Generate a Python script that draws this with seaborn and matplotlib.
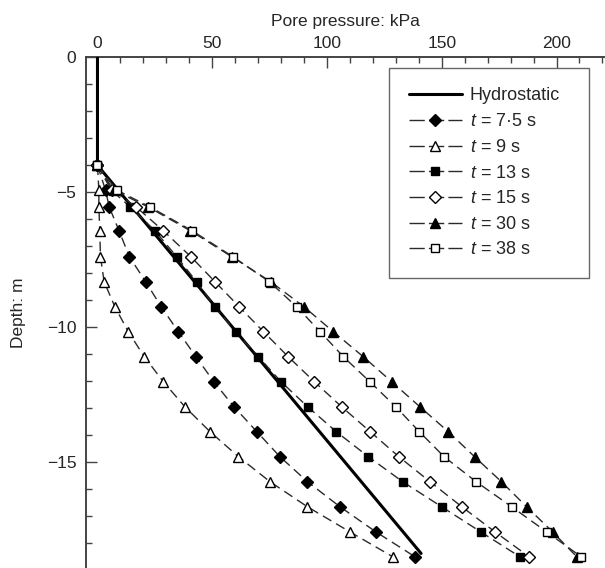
import matplotlib
matplotlib.use("Agg")
import matplotlib.pyplot as plt
import seaborn as sns
from matplotlib.ticker import MultipleLocator
from matplotlib.lines import Line2D

# ---------------- data ----------------
depth = [-4.0, -4.92, -5.54, -6.43, -7.39, -8.32, -9.25, -10.17, -11.10,
         -12.03, -12.96, -13.88, -14.81, -15.74, -16.67, -17.60, -18.52]

t_7_5 = [0, 3.5, 5.1, 9.4, 13.9, 21.0, 27.8, 35.2, 42.9, 50.7, 59.5, 69.4,
         79.5, 91.5, 105.7, 121.3, 138.3]
t_9 = [0, 0.6, 0.6, 1.0, 1.3, 2.9, 7.6, 13.4, 20.4, 28.7, 38.1, 49.0, 61.4,
       75.2, 91.5, 110.0, 128.6]
t_13 = [0, 6.0, 14.2, 25.1, 34.5, 43.2, 51.2, 60.2, 70.1, 80.0, 91.6, 104.0,
        118.0, 133.0, 150.0, 167.0, 184.0]
t_15 = [0, 6.5, 16.8, 28.7, 40.7, 51.2, 61.8, 72.3, 83.1, 94.5, 106.4, 118.8,
        131.3, 144.9, 158.8, 173.2, 188.0]
t_30 = [0, 7.0, 22.0, 40.5, 58.5, 75.5, 90.0, 102.7, 115.8, 128.2, 140.5,
        152.8, 164.3, 176.0, 187.0, 198.3, 208.8]
t_38 = [0, 8.4, 22.8, 41.3, 59.0, 74.9, 86.8, 97.0, 107.1, 118.7, 130.0,
        140.2, 151.0, 165.0, 180.5, 195.7, 210.7]

hydro_depth = [0.0, -4.0, -18.4]
hydro_p = [0.0, 0.0, 141.0]

labels = ["$t$ = 7·5 s", "$t$ = 9 s", "$t$ = 13 s", "$t$ = 15 s",
          "$t$ = 30 s", "$t$ = 38 s"]
series = [t_7_5, t_9, t_13, t_15, t_30, t_38]
x_ticks = [0, 50, 100, 150, 200]
y_ticks = [0, -5, -10, -15]

# ---------------- style ----------------
sns.set_style("ticks")
plt.rcParams["font.family"] = ["Liberation Sans", "DejaVu Sans"]
plt.rcParams["mathtext.fontset"] = "custom"
plt.rcParams["mathtext.it"] = "Liberation Sans:italic"
plt.rcParams["mathtext.rm"] = "Liberation Sans"

markers = ["D", "^", "s", "D", "^", "s"]
faces = ["black", "white", "black", "white", "black", "white"]
msizes = [6.0, 6.5, 5.6, 6.0, 6.5, 5.6]

fig = plt.figure(figsize=(6.05, 5.68), dpi=100)
ax = fig.add_axes([86 / 605, 0.0, (604.7 - 86) / 605, 510.5 / 568])

sns.lineplot(x=hydro_p, y=hydro_depth, sort=False, estimator=None, ax=ax,
             color="black", linewidth=2.2, zorder=3)

handles = [Line2D([], [], color="black", linewidth=2.2)]
for vals, m, fc, ms in zip(series, markers, faces, msizes):
    sns.lineplot(x=vals, y=depth, sort=False, estimator=None, ax=ax,
                 color="#2a2a2a", linewidth=1.0, linestyle=(0, (7, 4)),
                 marker=m, markersize=ms, markerfacecolor=fc,
                 markeredgecolor="black", markeredgewidth=1.0, zorder=4)
    handles.append(Line2D([], [], color="#2a2a2a", linewidth=1.0,
                          linestyle=(0, (11, 3)), marker=m, markersize=ms,
                          markerfacecolor=fc, markeredgecolor="black",
                          markeredgewidth=1.0))

ax.set_xlim(-5, 221)
ax.set_ylim(-18.94, 0)

ax.xaxis.tick_top()
ax.xaxis.set_label_position("top")
ax.set_xticks(x_ticks)
ax.set_yticks(y_ticks)
ax.xaxis.set_minor_locator(MultipleLocator(10))
ax.yaxis.set_minor_locator(MultipleLocator(1))
ax.tick_params(which="major", direction="in", length=8, width=1.0,
               color="#444444", labelsize=12.5, pad=5, top=True, bottom=False,
               left=True, right=False)
ax.tick_params(which="minor", direction="in", length=4, width=1.0,
               color="#444444", top=True, bottom=False, left=True, right=False)
ax.tick_params(axis="y", pad=7)

for side in ["right", "bottom"]:
    ax.spines[side].set_visible(False)
for side in ["left", "top"]:
    ax.spines[side].set_linewidth(1.4)
    ax.spines[side].set_color("#444444")

ax.set_xlabel("Pore pressure: kPa", fontsize=12.5, labelpad=7)
ax.set_ylabel("Depth: m", fontsize=12.5, labelpad=15)

leg = ax.legend(handles, ["Hydrostatic"] + labels, loc="upper left",
                bbox_to_anchor=(389 / 605, 1 - 68 / 568, 200 / 605, 0),
                bbox_transform=fig.transFigure, mode="expand",
                frameon=True, fancybox=False, framealpha=1,
                edgecolor="#666666", fontsize=13, handlelength=2.95,
                handletextpad=0.45, borderpad=1.08, labelspacing=0.48,
                borderaxespad=0)
leg.get_frame().set_linewidth(1.0)

fig.savefig("out.png", dpi=100)
